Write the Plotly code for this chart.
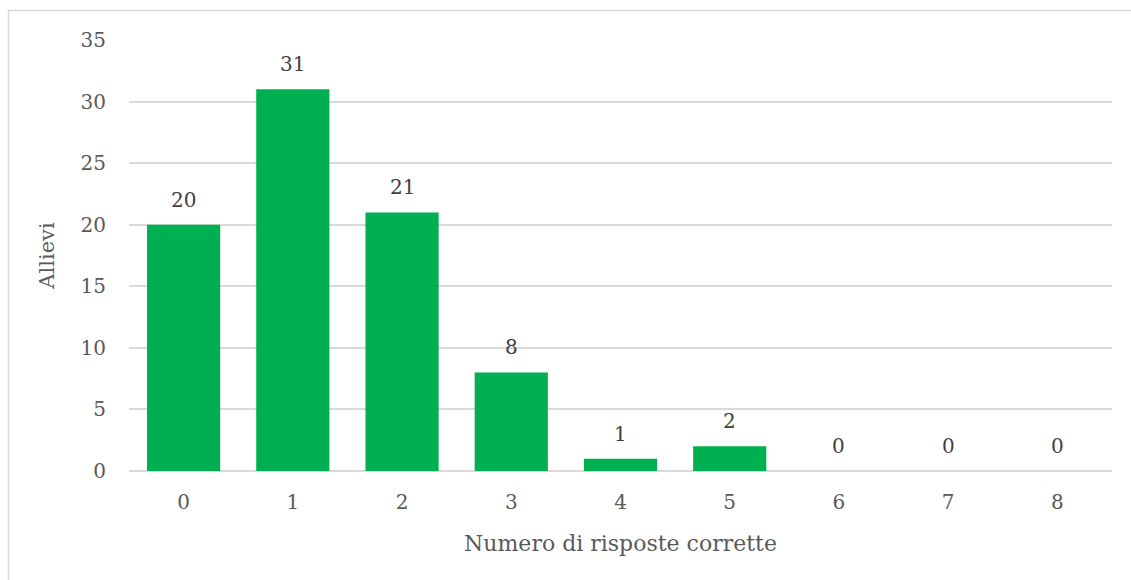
import plotly.graph_objects as go

categories = ["0", "1", "2", "3", "4", "5", "6", "7", "8"]
allievi = [20, 31, 21, 8, 1, 2, 0, 0, 0]
y_ticks = [0, 5, 10, 15, 20, 25, 30, 35]

FONT = "DejaVu Serif"
L, R, T, B = 129, 19, 40, 109
W, H = 1131, 580
pw, ph = W - L - R, H - T - B

fig = go.Figure()
fig.add_trace(go.Bar(
    x=categories, y=allievi,
    marker=dict(color="#00B050", line=dict(width=0)),
    hoverinfo="x+y",
))

for c, v in zip(categories, allievi):
    fig.add_annotation(x=c, y=v, text=str(v), showarrow=False,
                       yanchor="bottom", yshift=11,
                       font=dict(family=FONT, size=20, color="#404040"))

# chart border (left and top visible)
x0 = (8.5 - L) / pw
y1 = 1 + (T - 10.5) / ph
fig.add_shape(type="rect", xref="paper", yref="paper",
              x0=x0, x1=(W + 10 - L) / pw, y0=-(B + 10) / ph, y1=y1,
              line=dict(color="#d9d9d9", width=1.5), layer="below")

fig.update_layout(
    width=W, height=H,
    margin=dict(l=L, r=R, t=T, b=B),
    paper_bgcolor="white", plot_bgcolor="white",
    bargap=0.33, showlegend=False,
    font=dict(family=FONT, color="#595959"),
)
fig.update_xaxes(
    type="category", showgrid=False, zeroline=False, showline=False,
    ticks="", tickfont=dict(family=FONT, size=20, color="#595959"),
    ticklabelstandoff=17,
    title=dict(text="Numero di risposte corrette", standoff=22,
               font=dict(family=FONT, size=22, color="#595959")),
)
fig.update_yaxes(
    range=[0, 35], tickvals=y_ticks, showgrid=True,
    gridcolor="#d9d9d9", gridwidth=1.5, zeroline=True,
    zerolinecolor="#d9d9d9", zerolinewidth=1.5, showline=False,
    ticks="", tickfont=dict(family=FONT, size=20, color="#595959"),
    ticklabelstandoff=22,
    title=dict(text="Allievi", standoff=20,
               font=dict(family=FONT, size=21, color="#595959")),
)

fig.write_html("out.html")
